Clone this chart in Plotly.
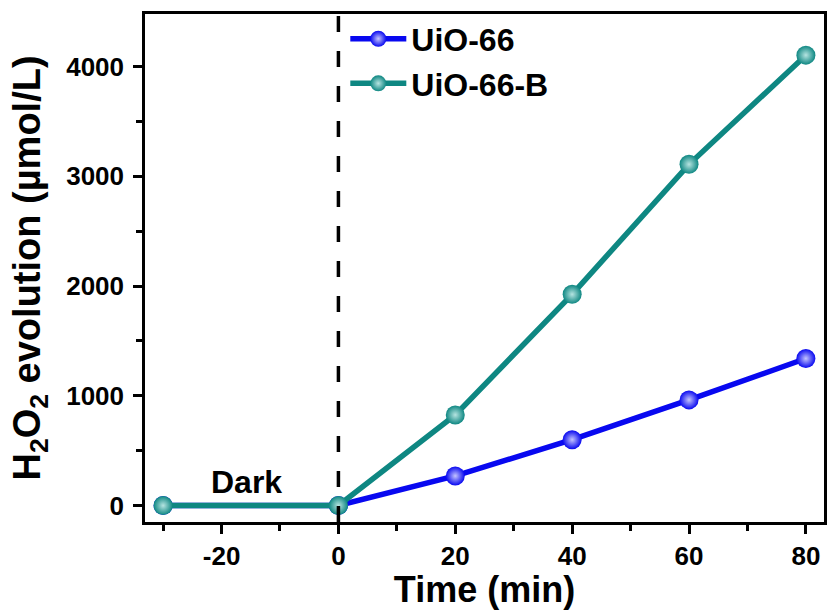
import plotly.graph_objects as go

time_min = [-30, 0, 20, 40, 60, 80]
uio66 = [0, 0, 270, 600, 963, 1340]
uio66b = [0, 0, 826, 1925, 3110, 4105]
x_ticks = [-20, 0, 20, 40, 60, 80]
y_ticks = [0, 1000, 2000, 3000, 4000]

BLUE = "#0808f0"
TEAL = "#0e8782"
FONT = "Arial, Liberation Sans, sans-serif"

fig = go.Figure()
fig.add_trace(go.Scatter(
    x=time_min, y=uio66, name="UiO-66", mode="lines+markers",
    line=dict(color=BLUE, width=5.5),
    marker=dict(size=19, color=BLUE, gradient=dict(type="radial", color="#c4c4ff"),
                line=dict(width=0)),
))
fig.add_trace(go.Scatter(
    x=time_min, y=uio66b, name="UiO-66-B", mode="lines+markers",
    line=dict(color=TEAL, width=5.5),
    marker=dict(size=19, color=TEAL, gradient=dict(type="radial", color="#b6e4e1"),
                line=dict(width=0)),
))

fig.add_shape(type="line", x0=0, x1=0, xref="x", y0=0, y1=1, yref="paper",
              line=dict(color="black", width=3.5, dash="16px,19px"))
fig.add_annotation(x=-15.7, y=216, text="<b>Dark</b>", showarrow=False,
                   font=dict(family=FONT, size=32, color="black"))

fig.update_layout(
    width=829, height=610,
    margin=dict(l=145, r=2, t=14, b=88),
    plot_bgcolor="white", paper_bgcolor="white",
    font=dict(family=FONT, color="black"),
    showlegend=True,
    legend=dict(x=0.295, y=1.005, xanchor="left", yanchor="top",
                bgcolor="rgba(0,0,0,0)", font=dict(size=32, family=FONT, weight="bold"),
                itemwidth=56),
)
fig.update_xaxes(
    range=[-33.1, 83.1], tickvals=x_ticks, ticktext=[f"<b>{v}</b>" for v in x_ticks],
    ticks="outside", ticklen=9, tickwidth=2.5, tickcolor="black",
    minor=dict(dtick=10, tick0=0, ticks="outside", ticklen=6, tickwidth=2.5, tickcolor="black"),
    showline=True, linewidth=2.5, linecolor="black", mirror=True,
    showgrid=False, zeroline=False,
    tickfont=dict(size=26, family=FONT),
    title=dict(text="<b>Time (min)</b>", font=dict(size=36, family=FONT), standoff=4),
)
fig.update_yaxes(
    range=[-150, 4480], tickvals=y_ticks, ticktext=[f"<b>{v}</b>" for v in y_ticks],
    ticks="outside", ticklen=9, tickwidth=2.5, tickcolor="black",
    ticklabelstandoff=4,
    minor=dict(dtick=500, tick0=0, ticks="outside", ticklen=6, tickwidth=2.5, tickcolor="black"),
    showline=True, linewidth=2.5, linecolor="black", mirror=True,
    showgrid=False, zeroline=False,
    tickfont=dict(size=26, family=FONT),
    title=dict(text="<b>H<sub>2</sub>O<sub>2</sub> evolution (µmol/L)</b>",
               font=dict(size=38, family=FONT), standoff=14),
)

fig.write_html("out.html")
